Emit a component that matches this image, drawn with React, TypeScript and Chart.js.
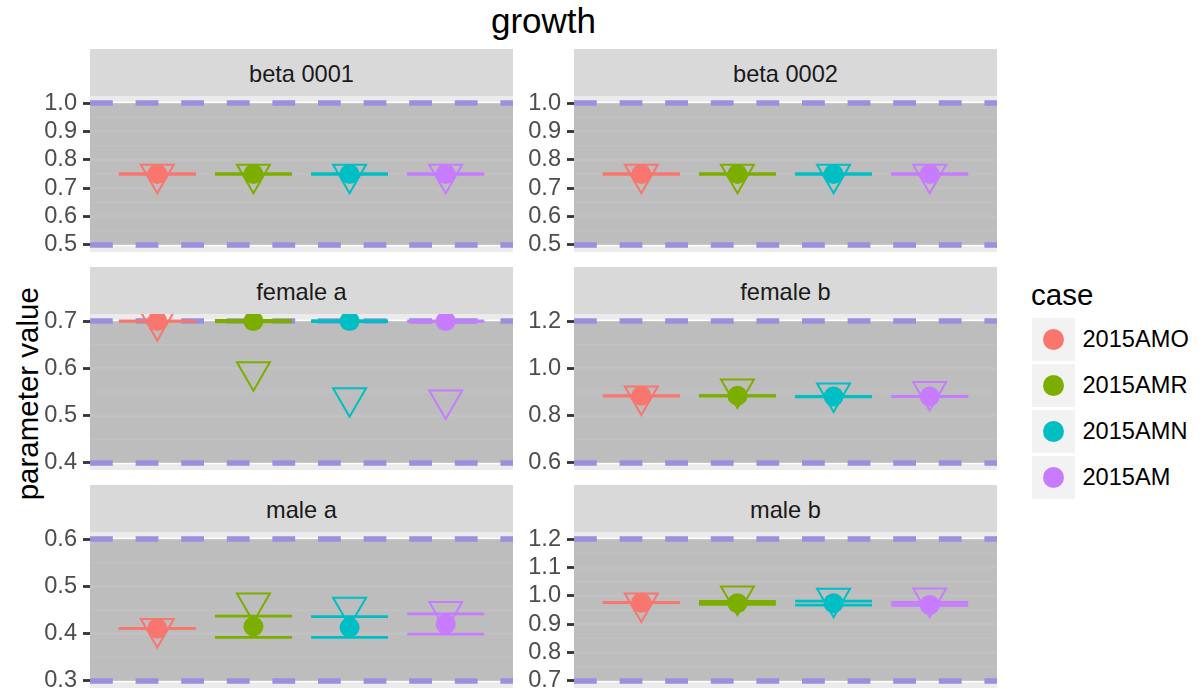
import React, { useEffect, useRef } from 'react';
import { Chart, registerables } from 'chart.js';

Chart.register(...registerables);

// ---------- data ----------
const CASES = ['2015AMO', '2015AMR', '2015AMN', '2015AM'];
const PANELS = ['beta 0001', 'beta 0002', 'female a', 'female b', 'male a', 'male b'];
const LOWER_BOUND = [0.5, 0.5, 0.4, 0.6, 0.3, 0.7];
const UPPER_BOUND = [1.0, 1.0, 0.7, 1.2, 0.6, 1.2];
const Y_TICKS = [
  [0.5, 0.6, 0.7, 0.8, 0.9, 1.0],
  [0.5, 0.6, 0.7, 0.8, 0.9, 1.0],
  [0.4, 0.5, 0.6, 0.7],
  [0.6, 0.8, 1.0, 1.2],
  [0.3, 0.4, 0.5, 0.6],
  [0.7, 0.8, 0.9, 1.0, 1.1, 1.2],
];
// point estimates (filled circles)
const ESTIMATE = [
  [0.75, 0.75, 0.75, 0.75],
  [0.75, 0.75, 0.75, 0.75],
  [0.7, 0.7, 0.7, 0.7],
  [0.884, 0.884, 0.881, 0.881],
  [0.411, 0.415, 0.413, 0.42],
  [0.976, 0.974, 0.974, 0.968],
];
// open down-triangles
const TRIANGLE = [
  [0.749, 0.749, 0.749, 0.749],
  [0.749, 0.749, 0.749, 0.749],
  [0.699, 0.593, 0.538, 0.533],
  [0.883, 0.913, 0.896, 0.902],
  [0.411, 0.465, 0.456, 0.447],
  [0.975, 0.999, 0.991, 0.992],
];
// interval upper / lower
const CI_UPPER = [
  [0.75, 0.75, 0.75, 0.75],
  [0.75, 0.75, 0.75, 0.75],
  [0.7, 0.7015, 0.701, 0.7005],
  [0.884, 0.885, 0.881, 0.881],
  [0.411, 0.437, 0.436, 0.442],
  [0.976, 0.98, 0.981, 0.977],
];
const CI_LOWER = [
  [0.75, 0.75, 0.75, 0.75],
  [0.75, 0.75, 0.75, 0.75],
  [0.7, 0.6985, 0.699, 0.6995],
  [0.884, 0.883, 0.88, 0.881],
  [0.411, 0.392, 0.392, 0.399],
  [0.976, 0.97, 0.967, 0.966],
];

// ---------- styles / layout ----------
const CASE_COLORS = ['#F8766D', '#7CAE00', '#00BFC4', '#C77CFF'];
const DASH_COLOR = '#9A90DE';
const FONT = "'Liberation Sans', Arial, Helvetica, sans-serif";
const X_MIN = 0.3;
const X_MAX = 4.7;
const HALF_WIDTH = 0.4;
const PANEL_LEFT = [90, 574];
const PANEL_TOP = [96, 314, 532];
const PANEL_W = 423;
const PANEL_H = 156;
const STRIP_H = 47;
const AXIS_W = 50;
const PAD_V = 22;
const SMALL = 23.6;
const BASE = 29.5;

const bgPlugin = {
  id: 'panelBg',
  beforeDatasetsDraw(chart: any, _args: any, opts: any) {
    const { ctx, chartArea: a, scales } = chart;
    const y = scales.y;
    ctx.save();
    ctx.beginPath();
    ctx.rect(a.left, a.top, a.right - a.left, a.bottom - a.top);
    ctx.clip();
    ctx.fillStyle = '#EBEBEB';
    ctx.fillRect(a.left, a.top, a.right - a.left, a.bottom - a.top);
    const ticks: number[] = opts.ticks;
    ctx.strokeStyle = '#FFFFFF';
    ctx.lineWidth = 1.4;
    for (let i = 0; i < ticks.length - 1; i++) {
      const py = y.getPixelForValue((ticks[i] + ticks[i + 1]) / 2);
      ctx.beginPath();
      ctx.moveTo(a.left, py);
      ctx.lineTo(a.right, py);
      ctx.stroke();
    }
    ctx.lineWidth = 2.8;
    ticks.forEach((v) => {
      const py = y.getPixelForValue(v);
      ctx.beginPath();
      ctx.moveTo(a.left, py);
      ctx.lineTo(a.right, py);
      ctx.stroke();
    });
    const yHi = y.getPixelForValue(opts.hi);
    const yLo = y.getPixelForValue(opts.lo);
    ctx.fillStyle = 'rgba(175,175,175,0.78)';
    ctx.fillRect(a.left, yHi, a.right - a.left, yLo - yHi);
    ctx.restore();
  },
};

function Panel({ p }: { p: number }) {
  const ref = useRef<HTMLCanvasElement | null>(null);
  useEffect(() => {
    if (!ref.current) return;
    const lo = LOWER_BOUND[p];
    const hi = UPPER_BOUND[p];
    const span = hi - lo;
    const datasets: any[] = [];
    CASES.forEach((_c, i) => {
      [CI_UPPER, CI_LOWER].forEach((arr) => {
        datasets.push({
          data: [
            { x: i + 1 - HALF_WIDTH, y: arr[p][i] },
            { x: i + 1 + HALF_WIDTH, y: arr[p][i] },
          ],
          showLine: true,
          borderColor: CASE_COLORS[i],
          borderWidth: 2.8,
          pointRadius: 0,
          order: 3,
          clip: 0,
        });
      });
    });
    datasets.push({
      data: CASES.map((_c, i) => ({ x: i + 1, y: TRIANGLE[p][i] })),
      pointStyle: 'triangle',
      pointRotation: 180,
      pointRadius: 19,
      pointBackgroundColor: 'rgba(0,0,0,0)',
      pointBorderColor: CASE_COLORS,
      pointBorderWidth: 2,
      showLine: false,
      order: 2,
      clip: 0,
    });
    datasets.push({
      data: CASES.map((_c, i) => ({ x: i + 1, y: ESTIMATE[p][i] })),
      pointStyle: 'circle',
      pointRadius: 10,
      pointBackgroundColor: CASE_COLORS,
      pointBorderWidth: 0,
      showLine: false,
      order: 1,
      clip: 0,
    });
    [lo, hi].forEach((v) => {
      datasets.push({
        data: [
          { x: X_MIN, y: v },
          { x: X_MAX, y: v },
        ],
        showLine: true,
        borderColor: DASH_COLOR,
        borderWidth: 5.5,
        borderDash: [22.8, 22.8],
        pointRadius: 0,
        order: 4,
        clip: 0,
      });
    });
    const chart = new Chart(ref.current, {
      type: 'scatter',
      data: { datasets },
      plugins: [bgPlugin as any],
      options: {
        animation: false,
        responsive: false,
        devicePixelRatio: 1,
        events: [],
        layout: { autoPadding: false, padding: { top: PAD_V, bottom: PAD_V, left: 0, right: 0 } },
        plugins: {
          legend: { display: false },
          tooltip: { enabled: false },
          panelBg: { lo, hi, ticks: Y_TICKS[p] },
        } as any,
        scales: {
          x: { type: 'linear', min: X_MIN, max: X_MAX, display: false },
          y: {
            type: 'linear',
            position: 'left',
            min: lo - 0.05 * span,
            max: hi + 0.05 * span,
            afterFit: (s: any) => {
              s.width = AXIS_W;
            },
            afterBuildTicks: (s: any) => {
              s.ticks = Y_TICKS[p].map((v) => ({ value: v }));
            },
            ticks: {
              font: { family: FONT, size: SMALL },
              color: '#4D4D4D',
              padding: 6,
              autoSkip: false,
              callback: (v: any) => Number(v).toFixed(1),
            },
            grid: {
              display: true,
              drawOnChartArea: false,
              drawTicks: true,
              tickLength: 7,
              tickColor: '#333333',
              tickWidth: 2.8,
            },
            border: { display: false },
          },
        },
      } as any,
    });
    return () => chart.destroy();
  }, [p]);
  const col = p % 2;
  const row = Math.floor(p / 2);
  return (
    <>
      <canvas
        ref={ref}
        width={AXIS_W + PANEL_W}
        height={PANEL_H + 2 * PAD_V}
        style={{
          position: 'absolute',
          left: PANEL_LEFT[col] - AXIS_W,
          top: PANEL_TOP[row] - PAD_V,
          width: AXIS_W + PANEL_W,
          height: PANEL_H + 2 * PAD_V,
        }}
      />
      <div
        style={{
          position: 'absolute',
          left: PANEL_LEFT[col],
          top: PANEL_TOP[row] - STRIP_H,
          width: PANEL_W,
          height: STRIP_H,
          boxSizing: 'border-box',
          paddingTop: 1.6,
          background: '#D9D9D9',
          color: '#1A1A1A',
          fontSize: SMALL,
          lineHeight: STRIP_H + 'px',
          textAlign: 'center',
          whiteSpace: 'nowrap',
        }}
      >
        {PANELS[p]}
      </div>
    </>
  );
}

export default function App() {
  const legendCenters = CASES.map((_c, i) => 339.5 + 46 * i);
  return (
    <div
      style={{
        position: 'fixed',
        left: 0,
        top: 0,
        width: 1199,
        height: 694,
        background: '#FFFFFF',
        fontFamily: FONT,
        overflow: 'hidden',
      }}
    >
      <div
        style={{
          position: 'absolute',
          left: 343.5,
          width: 400,
          top: 2.7,
          fontSize: 35,
          lineHeight: '35px',
          textAlign: 'center',
          color: '#000000',
          whiteSpace: 'nowrap',
        }}
      >
        growth
      </div>
      <div
        style={{
          position: 'absolute',
          left: 27.5 - 150,
          top: 394 - BASE / 2,
          width: 300,
          height: BASE,
          fontSize: BASE,
          lineHeight: BASE + 'px',
          textAlign: 'center',
          color: '#000000',
          transform: 'rotate(-90deg)',
          transformOrigin: '50% 50%',
          whiteSpace: 'nowrap',
        }}
      >
        parameter value
      </div>
      {PANELS.map((_n, p) => (
        <Panel key={p} p={p} />
      ))}
      <div
        style={{
          position: 'absolute',
          left: 1031,
          top: 280,
          fontSize: BASE,
          lineHeight: BASE + 'px',
          color: '#000000',
          whiteSpace: 'nowrap',
        }}
      >
        case
      </div>
      {CASES.map((c, i) => (
        <React.Fragment key={c}>
          <div
            style={{
              position: 'absolute',
              left: 1032,
              top: legendCenters[i] - 21.5,
              width: 43,
              height: 43,
              background: '#F2F2F2',
            }}
          />
          <div
            style={{
              position: 'absolute',
              left: 1053.5 - 10.5,
              top: legendCenters[i] - 10.5,
              width: 21,
              height: 21,
              borderRadius: '50%',
              background: CASE_COLORS[i],
            }}
          />
          <div
            style={{
              position: 'absolute',
              left: 1082.5,
              top: legendCenters[i] - SMALL / 2,
              fontSize: SMALL,
              lineHeight: SMALL + 'px',
              color: '#000000',
              whiteSpace: 'nowrap',
            }}
          >
            {c}
          </div>
        </React.Fragment>
      ))}
    </div>
  );
}
